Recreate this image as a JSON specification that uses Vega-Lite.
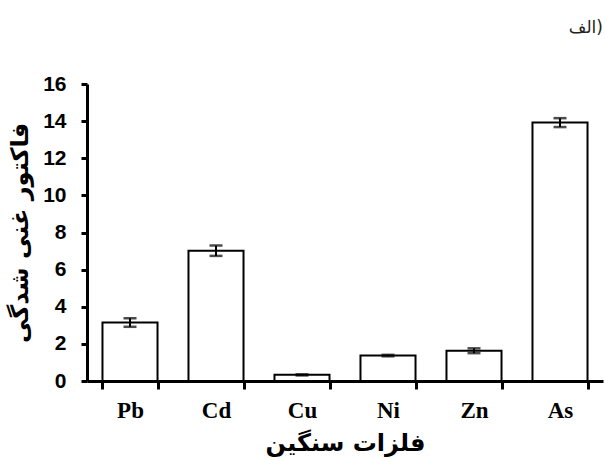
{
  "$schema": "https://vega.github.io/schema/vega-lite/v6.json",
  "width": 516,
  "height": 297,
  "autosize": {"type": "none"},
  "padding": {"left": 87, "top": 84, "right": 2, "bottom": 80},
  "background": "white",
  "title": {
    "text": "الف)",
    "anchor": "end",
    "font": "DejaVu Sans",
    "fontSize": 17,
    "fontWeight": "normal",
    "color": "#222",
    "offset": 36
  },
  "data": {
    "values": [
      {"metal": "Pb", "value": 3.15, "err": 0.23},
      {"metal": "Cd", "value": 7.02, "err": 0.28},
      {"metal": "Cu", "value": 0.33, "err": 0.03},
      {"metal": "Ni", "value": 1.37, "err": 0.04},
      {"metal": "Zn", "value": 1.63, "err": 0.13},
      {"metal": "As", "value": 13.92, "err": 0.24}
    ]
  },
  "encoding": {
    "x": {
      "field": "metal",
      "type": "nominal",
      "sort": null,
      "scale": {"paddingInner": 0.36, "paddingOuter": 0.18},
      "axis": {
        "title": "فلزات سنگین",
        "titleFont": "DejaVu Sans",
        "titleFontSize": 24,
        "titleFontWeight": "bold",
        "titleColor": "black",
        "titlePadding": 9,
        "labelAngle": 0,
        "labelFont": "Liberation Serif",
        "labelFontSize": 23,
        "labelFontWeight": "bold",
        "labelColor": "black",
        "labelPadding": 10,
        "tickBand": "extent",
        "tickSize": 8,
        "tickWidth": 3,
        "tickColor": "black",
        "domainColor": "black",
        "domainWidth": 3,
        "grid": false
      }
    },
    "y": {
      "field": "value",
      "type": "quantitative",
      "scale": {"domain": [0, 16]},
      "axis": {
        "title": "فاکتور غنی شدگی",
        "titleFont": "DejaVu Sans",
        "titleFontSize": 24,
        "titleFontWeight": "bold",
        "titleColor": "black",
        "titlePadding": 10,
        "values": [0, 2, 4, 6, 8, 10, 12, 14, 16],
        "labelOverlap": false,
        "labelFont": "Liberation Sans",
        "labelFontSize": 21,
        "labelFontWeight": "bold",
        "labelColor": "black",
        "labelPadding": 15,
        "tickSize": 6,
        "tickWidth": 3,
        "tickColor": "black",
        "domainColor": "black",
        "domainWidth": 3,
        "grid": false
      }
    }
  },
  "layer": [
    {
      "mark": {"type": "bar", "fill": "white", "stroke": "black", "strokeWidth": 2}
    },
    {
      "mark": {
        "type": "errorbar",
        "color": "black",
        "thickness": 2,
        "ticks": {"size": 13, "thickness": 2.5, "color": "black"}
      },
      "encoding": {
        "yError": {"field": "err"}
      }
    }
  ],
  "config": {"view": {"stroke": null}}
}
